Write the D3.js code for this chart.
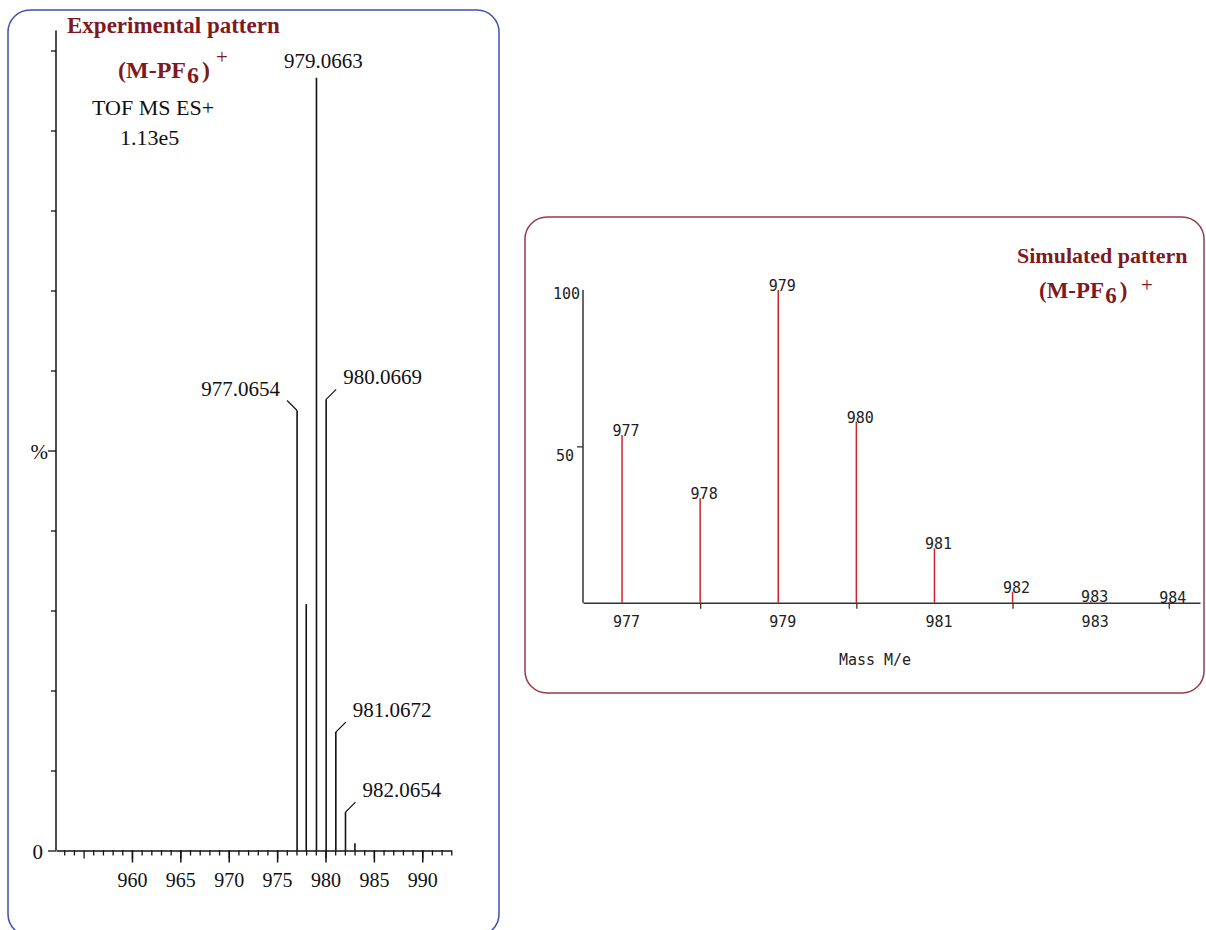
<!DOCTYPE html>
<html lang="en">
<head>
<meta charset="utf-8">
<title>Experimental vs simulated isotope pattern</title>
<script src="https://d3js.org/d3.v7.min.js"></script>
<style>
  body { margin: 0; background: #fff; }
  svg { display: block; }
</style>
</head>
<body>
<script>
// --- data ---
// experimental spectrum (TOF MS ES+), intensity in % of axis
var expMz = [977.0654, 978.01, 979.0663, 980.0669, 981.0672, 982.0654, 983.04];
var expInt = [55.0, 30.8, 96.6, 56.4, 14.8, 4.8, 0.9];
var expLabels = ["977.0654", "", "979.0663", "980.0669", "981.0672", "982.0654", ""];
var expTicks = [960, 965, 970, 975, 980, 985, 990];

// simulated pattern
var simMz = [977, 978, 979, 980, 981, 982, 983, 984];
var simInt = [53.6, 33.4, 100, 57.9, 17.4, 3.5, 0.6, 0.2];
var simTicks = [977, 979, 981, 983];
var simYTicks = [50, 100];

var darkRed = "#7e1a1f";
var serif = "'Liberation Serif', 'Times New Roman', serif";
var mono = "'DejaVu Sans Mono', monospace";

var svg = d3.select("body").append("svg")
    .attr("width", 1206)
    .attr("height", 930);

// ================= left panel: experimental =================
svg.append("rect")
    .attr("x", 8).attr("y", 10)
    .attr("width", 491).attr("height", 926)
    .attr("rx", 22).attr("ry", 22)
    .attr("fill", "none")
    .attr("stroke", "#3f4fb5")
    .attr("stroke-width", 1.5);

var xL = d3.scaleLinear().domain([952.15, 993]).range([56, 451.3]);
var yL = d3.scaleLinear().domain([0, 100]).range([850.5, 50.5]);

var left = svg.append("g");

// y axis
left.append("line")
    .attr("x1", xL(952.15)).attr("x2", xL(952.15))
    .attr("y1", yL(0)).attr("y2", yL(102.5))
    .attr("stroke", "#111").attr("stroke-width", 1.5);

var yAxL = left.append("g")
    .attr("transform", "translate(" + xL(952.15) + ",0)")
    .call(d3.axisLeft(yL).tickValues(d3.range(0, 101, 10))
        .tickSize(5).tickSizeOuter(0)
        .tickFormat(function(d) { return d === 0 ? "0" : d === 50 ? "%" : ""; }));
yAxL.select(".domain").remove();
yAxL.selectAll(".tick line")
    .attr("stroke", "#111").attr("stroke-width", 1.3)
    .attr("x2", function(d) { return (d === 0 || d === 50) ? -8 : -5; });
yAxL.selectAll(".tick text")
    .attr("x", function(d) { return d === 0 ? -13 : -8; })
    .attr("dy", "0.38em")
    .style("font-family", serif).style("font-size", "21px").attr("fill", "#111");

// x axis, minor then major
var xMinor = left.append("g")
    .attr("transform", "translate(0," + yL(0) + ")")
    .call(d3.axisBottom(xL).tickValues(d3.range(953, 994)).tickSize(5)
        .tickSizeOuter(0).tickFormat(""));
xMinor.select(".domain").attr("stroke", "#111").attr("stroke-width", 1.5);
xMinor.selectAll(".tick line").attr("stroke", "#111").attr("stroke-width", 1.3)
    .attr("y2", function(d) { return d % 5 === 0 ? 8 : 5; });

var xMajor = left.append("g")
    .attr("transform", "translate(0," + yL(0) + ")")
    .call(d3.axisBottom(xL).tickValues(expTicks).tickSize(12)
        .tickSizeOuter(0).tickFormat(d3.format("d")));
xMajor.select(".domain").remove();
xMajor.selectAll(".tick line").attr("stroke", "#111").attr("stroke-width", 1.5);
xMajor.selectAll(".tick text")
    .attr("y", 36).attr("dy", null)
    .style("font-family", serif).style("font-size", "20px").attr("fill", "#111");

// peaks
left.selectAll("line.peak")
    .data(expMz)
    .enter().append("line")
    .attr("class", "peak")
    .attr("x1", function(d) { return xL(d); })
    .attr("x2", function(d) { return xL(d); })
    .attr("y1", yL(0))
    .attr("y2", function(d, i) { return yL(expInt[i]); })
    .attr("stroke", "#111").attr("stroke-width", 1.6);

// peak labels with small leader lines
var tallest = d3.maxIndex(expInt);
expMz.forEach(function(mz, i) {
    if (!expLabels[i]) return;
    var px = xL(mz), py = yL(expInt[i]);
    if (i === tallest) {
        left.append("text").attr("x", px + 7).attr("y", py - 10)
            .attr("text-anchor", "middle")
            .style("font-family", serif).style("font-size", "21px").attr("fill", "#111")
            .text(expLabels[i]);
        return;
    }
    var dir = i < tallest ? -1 : 1;
    var ex = px + dir * 10, ey = py - 10;
    left.append("line")
        .attr("x1", px).attr("y1", py).attr("x2", ex).attr("y2", ey)
        .attr("stroke", "#111").attr("stroke-width", 1.2);
    left.append("text")
        .attr("x", ex + dir * 7).attr("y", ey - 5)
        .attr("text-anchor", dir < 0 ? "end" : "start")
        .style("font-family", serif).style("font-size", "21px").attr("fill", "#111")
        .text(expLabels[i]);
});

// titles
left.append("text").attr("x", 67).attr("y", 33)
    .style("font-family", serif).style("font-size", "23px").style("font-weight", "bold")
    .attr("fill", darkRed).text("Experimental pattern");

function formula(g, x, y, size, plusX, plusY) {
    var t = g.append("text").attr("x", x).attr("y", y)
        .style("font-family", serif).style("font-size", size + "px").style("font-weight", "bold")
        .attr("fill", darkRed);
    t.append("tspan").text("(M-PF");
    t.append("tspan").attr("dy", size * 0.22).attr("dx", 1).text("6");
    t.append("tspan").attr("dy", -size * 0.22).attr("dx", 3).text(")");
    g.append("text").attr("x", plusX).attr("y", plusY)
        .style("font-family", serif).style("font-size", "21px")
        .attr("fill", darkRed).text("+");
}
formula(left, 118, 78, 24, 216, 64);

left.append("text").attr("x", 92).attr("y", 115)
    .style("font-family", serif).style("font-size", "22px").attr("fill", "#111")
    .text("TOF MS ES+");
left.append("text").attr("x", 120).attr("y", 145)
    .style("font-family", serif).style("font-size", "22px").attr("fill", "#111")
    .text("1.13e5");

// ================= right panel: simulated =================
svg.append("rect")
    .attr("x", 525).attr("y", 217)
    .attr("width", 679).attr("height", 476)
    .attr("rx", 22).attr("ry", 22)
    .attr("fill", "none")
    .attr("stroke", "#9b3a48")
    .attr("stroke-width", 1.5);

var xR = d3.scaleLinear().domain([976.5, 984.4]).range([583, 1200]);
var yR = d3.scaleLinear().domain([0, 100]).range([602.7, 290]);

var right = svg.append("g");

right.append("line")
    .attr("x1", xR(976.5)).attr("x2", xR(976.5))
    .attr("y1", yR(0)).attr("y2", yR(100))
    .attr("stroke", "#333").attr("stroke-width", 1.5);

var yAxR = right.append("g")
    .attr("transform", "translate(" + xR(976.5) + ",0)")
    .call(d3.axisLeft(yR).tickValues(simYTicks).tickSize(6).tickSizeOuter(0));
yAxR.select(".domain").remove();
yAxR.selectAll(".tick line").attr("stroke", "#333").attr("stroke-width", 1.3)
    .attr("x2", function(d) { return d === 100 ? 0 : -6; });
yAxR.selectAll(".tick text")
    .attr("x", function(d) { return d === 100 ? -3 : -9; })
    .attr("dy", function(d) { return d === 100 ? "0.55em" : "0.95em"; })
    .style("font-family", mono).style("font-size", "15px").attr("fill", "#222");

var xAxR = right.append("g")
    .attr("transform", "translate(0," + yR(0) + ")")
    .call(d3.axisBottom(xR).tickValues(simMz).tickSize(6).tickSizeOuter(0)
        .tickFormat(function(d) { return simTicks.indexOf(d) >= 0 ? d : ""; }));
xAxR.select(".domain").attr("stroke", "#333").attr("stroke-width", 1.5);
xAxR.selectAll(".tick line").attr("stroke", "#333").attr("stroke-width", 1.3)
    .attr("y2", function(d) { return simTicks.indexOf(d) >= 0 ? 0 : 6; });
xAxR.selectAll(".tick text")
    .attr("x", 4).attr("y", 24).attr("dy", null)
    .style("font-family", mono).style("font-size", "15px").attr("fill", "#222");

right.selectAll("line.peak")
    .data(simMz)
    .enter().append("line")
    .attr("class", "peak")
    .attr("x1", function(d) { return xR(d); })
    .attr("x2", function(d) { return xR(d); })
    .attr("y1", yR(0))
    .attr("y2", function(d, i) { return yR(simInt[i]); })
    .attr("stroke", "#c8262c").attr("stroke-width", 1.5);

right.selectAll("text.plabel")
    .data(simMz)
    .enter().append("text")
    .attr("class", "plabel")
    .attr("x", function(d) { return xR(d) + 4; })
    .attr("y", function(d, i) { return yR(simInt[i]) + 1; })
    .attr("text-anchor", "middle")
    .style("font-family", mono).style("font-size", "15px").attr("fill", "#222")
    .text(function(d) { return d; });

right.append("text").attr("x", 875).attr("y", 665)
    .attr("text-anchor", "middle")
    .style("font-family", mono).style("font-size", "15px").attr("fill", "#222")
    .text("Mass M/e");

right.append("text").attr("x", 1017).attr("y", 263)
    .style("font-family", serif).style("font-size", "22px").style("font-weight", "bold")
    .attr("fill", darkRed).text("Simulated pattern");
formula(right, 1039, 298, 23, 1141, 292);
</script>
</body>
</html>
